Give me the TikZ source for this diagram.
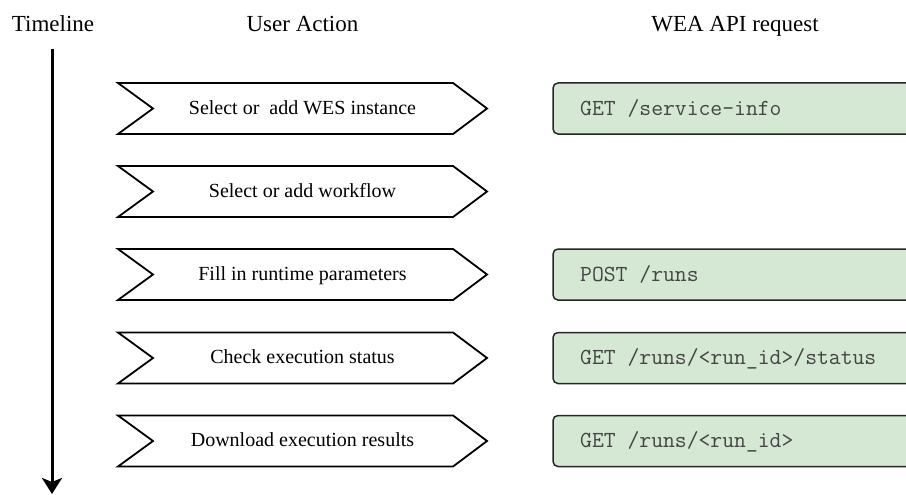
\documentclass[tikz,border=0pt]{standalone}
\usepackage{fontspec}
\setmainfont{Liberation Serif}
\usetikzlibrary{arrows.meta}
\definecolor{boxgreen}{HTML}{D5E8D4}
\definecolor{codegray}{HTML}{444444}
\begin{document}
\begin{tikzpicture}[x=1pt,y=-1pt,
  head/.style={anchor=base,inner sep=0pt,font=\fontsize{23}{27}\selectfont},
  acttext/.style={anchor=base,inner sep=0pt,font=\fontsize{20}{24}\selectfont},
  arrowshape/.style={draw=black,line width=1.8pt,fill=white,line join=miter},
  reqbox/.style={draw=black!85,line width=1.5pt,fill=boxgreen,rounded corners=5pt},
  reqtext/.style={anchor=base west,inner sep=0pt,text=codegray,font=\ttfamily\fontsize{23}{27}\selectfont}]
\clip (0,0) rectangle (906,495);
% headers
\node[head] (hTime) at (53,31.5) {Timeline};
\node[head] (hUser) at (302.5,31.5) {User Action};
\node[head] (hApi) at (735,31.5) {WEA API request};
% timeline
\coordinate (tlA) at (52,49);
\coordinate (tlB) at (52,494);
\draw[line width=3pt,-{Stealth[length=16pt,width=20pt,inset=4pt]}] (tlA) -- (tlB);
% action arrows
\foreach \cy/\nm/\txt in {108.5/a1/{Select or\ \ add WES instance},191.5/a2/{Select or add workflow},274.5/a3/{Fill in runtime parameters},358/a4/{Check execution status},441/a5/{Download execution results}}{
  \draw[arrowshape] (118,\cy-25.5) -- (453,\cy-25.5) -- (487,\cy) -- (453,\cy+25.5) -- (118,\cy+25.5) -- (153,\cy) -- cycle;
  \node[acttext] (\nm) at (302.5,\cy+5.5) {\txt};
}
% request boxes
\foreach \cy/\nm/\txt in {108.5/r1/{GET /service-info},274.5/r3/{POST /runs},358/r4/{GET /runs/<run\_id>/status},441/r5/{GET /runs/<run\_id>}}{
  \draw[reqbox] (553,\cy-25.5) rectangle (925,\cy+25.5);
  \node[reqtext] (\nm) at (580,\cy+6.5) {\txt};
}
\end{tikzpicture}
\end{document}
